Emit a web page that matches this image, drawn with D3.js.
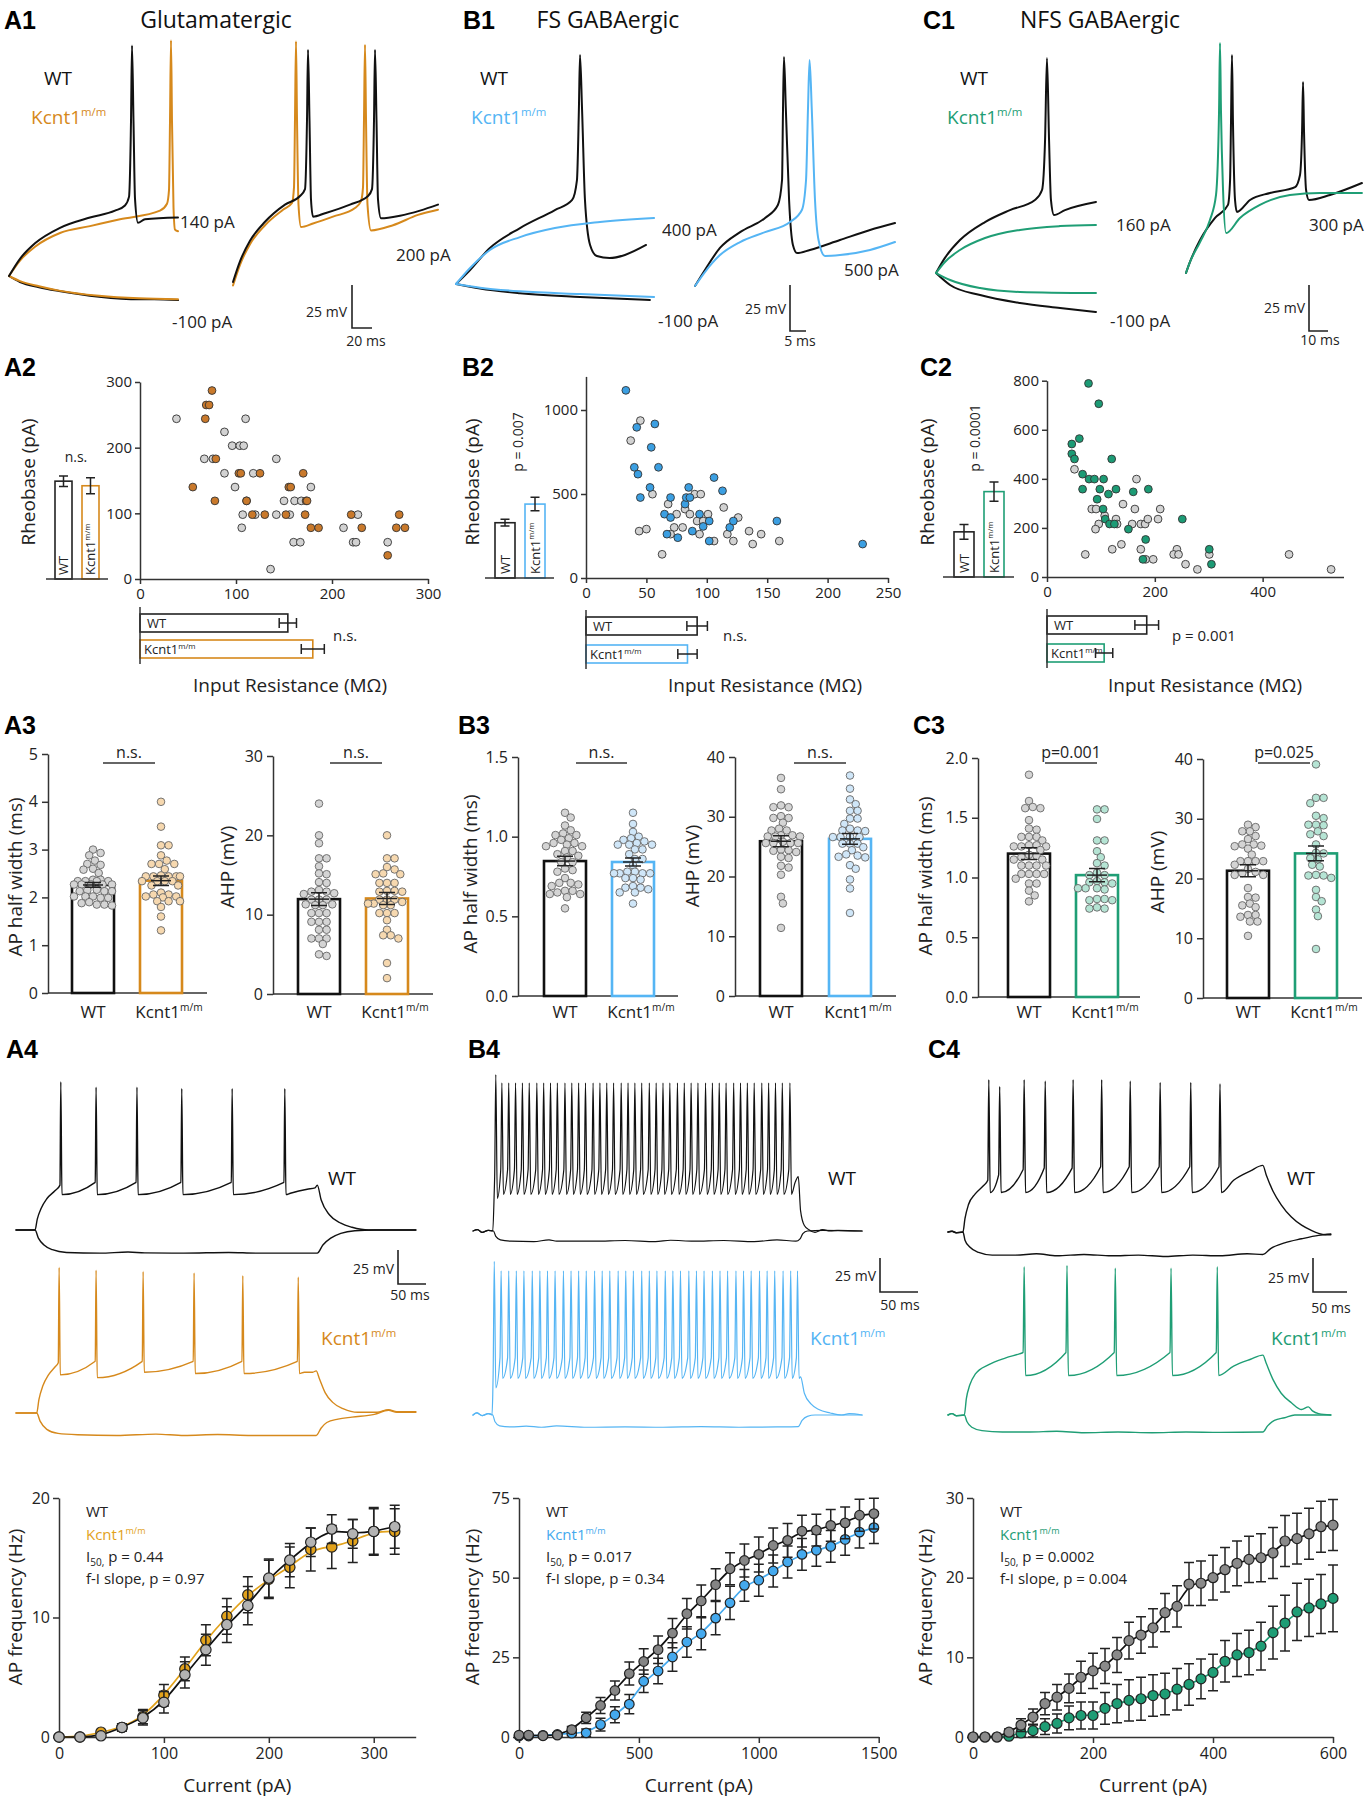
<!DOCTYPE html>
<html><head><meta charset="utf-8">
<script src="https://cdn.jsdelivr.net/npm/d3@7"></script>
<style>html,body{margin:0;padding:0;background:#fff}svg{display:block}</style>
</head><body>
<svg id="chart" width="1365" height="1800" xmlns="http://www.w3.org/2000/svg"></svg>
<script>
// ================= DATA =================
// Row 1 example traces: [time (ms), membrane potential relative to rest (mV)]
const A1_wt140 = [[0,0],[11,10],[26,19],[51,28],[81,34],[106,38],[116,41],[120,46],[122,90],[123,134],[124.5,90],[126,45],[129,31],[136,33],[169,34]];
const A1_ko140 = [[0,0],[11,9],[26,17],[51,25],[81,29],[111,33],[151,38],[158,42],[160,50],[161,90],[162,137],[163,90],[164.5,40],[166,27],[169,26]];
const A1_wthyp = [[0,0],[11,-3.5],[30,-6.5],[50,-8.7],[90,-12],[130,-13.5],[145,-13.5],[169,-14]];
const A1_kohyp = [[0,0],[11,-3],[30,-6],[50,-8.5],[90,-11.5],[130,-13],[169,-13.5]];
const A1_wt200 = [[0,0],[7,12],[17,24],[32,35],[52,45],[67,50],[72,54],[74,94],[75,135],[76.5,94],[78,48],[80,38],[92,40],[117,45],[135,50],[139,54],[141,94],[142,135],[143.5,94],[145,48],[148,37],[167,38.5],[187,41.5],[205,45]];
const A1_ko200 = [[0,-2],[7,10],[17,22],[32,33],[50,42],[59,46],[61,55],[62,95],[63,140],[64,95],[65.5,45],[68,32],[80,34],[100,38],[122,43],[128,47],[130,55],[131,95],[132,138],[133,95],[134.5,45],[138,30],[160,33],[185,39],[205,42]];
const B1_wt400 = [[0,0],[4.4,7.6],[10.6,19.6],[20,30.4],[30.9,40.2],[36.3,45.7],[37.8,56.5],[38.4,94.6],[38.75,124.5],[39.4,94.6],[40.3,45.7],[41.9,21.2],[44,15.2],[48,14.1],[52.8,15.8],[59.4,21.2]];
const B1_ko400 = [[0,0],[4.4,8.7],[10.6,18.5],[20,25.5],[30.9,30.4],[45,33.7],[61.9,35.9]];
const B1_wthyp = [[0,0],[7.5,-2.5],[20,-5],[38.75,-7],[60.6,-8.7]];
const B1_kohyp = [[0,0],[7.5,-2],[20,-4],[38.75,-5.5],[61.9,-7]];
const B1_wt500 = [[0,0],[3.1,8.7],[7.8,20.7],[14.1,29.3],[21.9,37],[25.9,44],[27.2,57.6],[27.5,95.7],[27.8,124.5],[28.4,95.7],[29.4,46.7],[30.6,22.3],[31.9,17.9],[35.9,19.6],[45.3,25],[54.7,30.4],[62.5,34.2]];
const B1_ko500 = [[0,0],[3.1,7.6],[7.8,16.8],[14.1,23.9],[21.9,29.3],[29.7,34.8],[33.4,41.3],[34.7,57.6],[35.3,95.7],[35.8,122.8],[36.5,95.7],[37.5,46.7],[38.6,25],[40.6,16.3],[45.3,16.8],[54.7,19.6],[62.5,23.9]];
const C1_wt160 = [[0,0],[4.7,8.2],[12.6,17.9],[25.8,27.7],[38.9,34.2],[52.1,39.7],[55.8,45.1],[57.4,72.3],[58.4,116.8],[59.5,72.3],[60.5,39.7],[62.1,31.5],[67.9,34.2],[84.2,38.6]];
const C1_ko160 = [[0,0],[4.7,6],[12.6,12.5],[25.8,19],[44.2,23.4],[65.3,25.5],[84.2,26.1]];
const C1_wthyp = [[0,0],[7.4,-6.5],[23.2,-12],[44.2,-16.3],[65.3,-19],[84.2,-21.2]];
const C1_kohyp = [[0,0],[7.4,-3.8],[23.2,-8.2],[44.2,-10.3],[84.2,-10.9]];
const C1_wt300 = [[0,0],[2.1,6],[7.4,17.9],[15.3,29.9],[22.1,37],[23.2,50.5],[23.7,83.2],[24.2,118.5],[24.7,83.2],[25.8,39.7],[26.8,33.2],[33.7,39.7],[44.2,43.5],[57.4,46.7],[60,53.3],[61.1,77.7],[61.6,103.8],[62.1,77.7],[63.2,45.1],[64.7,39.7],[75.8,42.4],[92.6,48.9]];
const C1_ko300 = [[0,0],[2.1,6],[7.4,16.8],[12.6,28.8],[15.8,42.4],[17.4,88.6],[17.9,125],[18.4,88.6],[19.5,45.1],[21.1,21.7],[28.4,29.9],[38.9,37],[54.7,42.4],[70.5,43.5],[92.6,43.5]];

// Row 2: [input resistance (MΩ), rheobase (pA)]
const A2_wt = [[38,244],[88,224],[110,244],[96,203],[104,203],[108,203],[67,183],[76,183],[88,161],[118,161],[99,140],[111,119],[107,98],[120,98],[106,78],[142,183],[142,98],[150,119],[156,98],[161,119],[168,119],[160,56],[167,56],[178,140],[136,15],[212,78],[227,98],[222,56],[225,56],[258,56]];
const A2_ko = [[75,287],[69,265],[72,265],[68,244],[79,183],[55,140],[78,119],[103,161],[105,161],[125,161],[111,119],[117,98],[130,98],[152,98],[155,140],[157,140],[170,161],[173,119],[174,119],[172,98],[178,78],[186,78],[220,98],[231,78],[270,98],[267,78],[276,78],[258,36]];
const B2_wt = [[45,937],[37,818],[55,499],[44,279],[50,291],[63,141],[68,440],[75,380],[73,301],[80,301],[70,261],[82,410],[86,380],[90,499],[95,499],[92,339],[97,339],[94,261],[101,380],[106,220],[114,420],[117,261],[122,220],[126,360],[135,279],[138,202],[145,261],[160,220]];
const B2_ko = [[33,1117],[42,897],[57,917],[54,778],[40,659],[43,618],[60,659],[53,539],[45,479],[70,479],[85,539],[106,598],[113,519],[65,380],[70,360],[82,440],[83,479],[86,479],[94,380],[102,339],[97,307],[88,279],[67,261],[76,240],[102,220],[119,301],[122,339],[158,339],[229,202]];
const C2_wt = [[51,439],[166,399],[141,297],[163,277],[210,277],[83,277],[91,277],[107,250],[96,216],[90,195],[128,236],[130,216],[158,216],[174,216],[182,216],[187,236],[206,236],[121,113],[138,133],[174,113],[71,92],[183,72],[197,72],[241,113],[235,92],[244,92],[257,52],[279,31],[301,92],[449,92],[527,31]];
const C2_ko = [[77,789],[96,706],[60,564],[46,542],[46,502],[51,481],[120,481],[66,419],[78,399],[88,399],[105,399],[66,358],[98,358],[128,358],[114,338],[160,347],[188,358],[93,317],[104,277],[108,236],[116,216],[125,216],[151,195],[183,153],[251,236],[178,72],[301,113],[305,52]];
// [mean, sem]
const A2_rheo = {wt:[149,8], ko:[142,12]}, A2_ir = {wt:[154,9], ko:[180,12]};
const B2_rheo = {wt:[329,20], ko:[440,40]}, B2_ir = {wt:[92,8.5], ko:[84,8]};
const C2_rheo = {wt:[184,30], ko:[348,39]}, C2_ir = {wt:[185,22], ko:[106,16]};

// Row 3: AP half width (ms) and AHP (mV) per cell
const A3_hw_wt = [3.0,2.93,2.88,2.77,2.68,2.7,2.6,2.58,2.51,2.37,2.37,2.34,2.34,2.34,2.34,2.27,2.27,2.27,2.27,2.27,2.16,2.15,2.13,2.13,2.13,2.02,1.99,2.02,2.02,1.99,1.85,1.9,1.83,1.88,1.85];
const A3_hw_ko = [4.0,3.48,3.09,3.09,2.88,2.7,2.7,2.7,2.77,2.59,2.44,2.44,2.44,2.44,2.44,2.46,2.34,2.34,2.34,2.34,2.25,2.25,2.06,2.06,2.1,2.02,2.02,2.0,1.92,1.92,1.92,1.8,1.6,1.31];
const A3_ahp_wt = [24.0,20.0,19.0,17.1,17.1,16.1,15.2,15.1,14.1,14.0,13.1,12.9,12.9,12.6,12.7,11.9,11.9,11.9,11.3,11.3,11.2,11.2,10.2,10.2,10.2,9.1,9.1,9.1,8.1,8.1,7.0,7.0,7.0,6.3,4.8,5.0];
const A3_ahp_ko = [20.0,17.1,17.1,16.0,15.7,15.2,15.1,15.1,14.0,14.0,14.0,13.0,13.0,12.9,12.9,11.9,11.9,11.9,11.6,11.4,11.2,11.2,11.4,10.2,10.2,10.2,9.3,8.1,7.4,7.4,7.0,3.9,2.0];
const B3_hw_wt = [1.15,1.12,1.07,1.04,1.01,1.01,1.02,0.99,0.98,0.96,0.95,0.96,0.94,0.94,0.91,0.91,0.89,0.88,0.87,0.84,0.84,0.79,0.78,0.80,0.74,0.71,0.71,0.70,0.69,0.66,0.66,0.65,0.64,0.64,0.62,0.55];
const B3_hw_ko = [1.15,1.08,1.03,1.0,0.99,0.98,0.97,0.95,0.95,0.95,0.96,0.92,0.92,0.89,0.86,0.86,0.82,0.77,0.77,0.78,0.77,0.78,0.77,0.74,0.74,0.73,0.68,0.68,0.69,0.67,0.65,0.65,0.58];
const B3_ahp_wt = [36.5,34.6,31.9,31.6,31.6,29.8,29.8,30.1,29.0,27.7,28.0,27.7,26.9,26.7,26.7,26.7,26.9,25.8,25.6,25.6,25.6,25.6,24.5,24.3,24.4,24.1,23.1,23.3,21.8,21.5,20.3,16.6,15.5,11.4];
const B3_ahp_ko = [36.9,34.7,32.9,32.1,31.0,31.0,29.7,29.7,28.8,28.0,27.7,27.7,27.6,26.6,26.7,26.6,26.6,25.5,25.5,25.5,24.4,24.9,23.5,23.7,23.2,23.3,21.9,21.3,19.5,18.0,13.9];
const C3_hw_wt = [1.86,1.64,1.59,1.58,1.58,1.48,1.40,1.41,1.34,1.34,1.34,1.31,1.27,1.26,1.26,1.27,1.26,1.23,1.15,1.18,1.19,1.17,1.15,1.10,1.10,1.10,1.10,1.03,1.03,1.03,1.03,0.99,0.95,0.95,0.89,0.85,0.80];
const C3_hw_ko = [1.57,1.57,1.49,1.31,1.31,1.22,1.17,1.12,1.10,1.04,1.02,1.02,0.97,0.96,0.96,0.95,0.91,0.91,0.91,0.90,0.81,0.81,0.82,0.82,0.74,0.74,0.75];
const C3_ahp_wt = [29.0,27.9,27.9,28.6,27.1,26.6,25.5,25.7,25.7,25.4,25.0,24.0,22.9,22.9,22.9,22.9,22.3,21.6,21.1,20.6,20.9,20.6,18.4,16.8,16.9,15.8,15.2,15.5,13.9,13.9,13.6,12.8,12.8,10.4];
const C3_ahp_ko = [39.1,33.5,33.5,32.6,30.1,30.5,29.0,28.9,27.9,29.0,27.4,27.1,25.7,24.3,24.2,23.4,23.2,22.3,22.0,20.5,20.5,20.1,20.6,18.1,16.9,16.2,14.8,13.7,8.2];
// [mean, sem]
const A3_stats = {hw:{wt:[2.26,0.05], ko:[2.35,0.1]}, ahp:{wt:[11.96,0.8], ko:[12.04,0.75]}};
const B3_stats = {hw:{wt:[0.847,0.03], ko:[0.841,0.025]}, ahp:{wt:[25.9,0.9], ko:[26.3,0.9]}};
const C3_stats = {hw:{wt:[1.20,0.05], ko:[1.02,0.055]}, ahp:{wt:[21.3,1.0], ko:[24.2,1.25]}};

// Row 4 trains: subthreshold knots + spike times (ms) + levels (mV)
const A4_wt_on = [[0,0],[34,0],[38,8],[45,16],[55,23],[70,29]];
const A4_wt_spk = [80,143,216,296,386,480];
const A4_wt_pk = [109,105,105,104,104,104];
const A4_wt_tail = [[490,27],[520,30],[534,31],[538,33],[545,22],[560,11],[580,5],[600,2],[630,0],[714,0]];
const A4_wt_hyp = [[0,0],[34,0],[40,-6],[50,-11],[65,-14.5],[90,-16.5],[150,-17],[200,-16.2],[230,-16.8],[300,-17],[380,-16.5],[430,-17],[538,-17],[548,-11],[562,-6],[580,-2.5],[605,-0.5],[640,0],[714,0]];
const A4_ko_on = [[0,0],[37,0],[41,10],[48,20],[58,28],[70,34]];
const A4_ko_spk = [77,143,227,318,405,504];
const A4_ko_pk = [107,105,104,103,101,100];
const A4_ko_tr = [28,26,30,29,29,29];
const A4_ko_tail = [[515,30],[530,30],[536,31],[542,25],[552,15],[565,8],[585,3],[610,0.5],[645,0.5],[665,2.5],[680,1],[714,1]];
const A4_ko_hyp = [[0,0],[37,0],[43,-6],[55,-12],[75,-15],[110,-16],[180,-16.5],[250,-15.5],[300,-16.5],[360,-15.8],[420,-16.5],[536,-16.5],[545,-11],[555,-7],[575,-4.5],[600,-3],[640,-1],[665,2],[680,0.5],[714,0.5]];
const B4_wt_on = [[0,0],[6,1],[12,-1],[20,0.5],[26,0],[28,30]];
const B4_wt_spk = [30,38,47,56,65,74,84,93,102,111,121,130,139,148,158,167,176,185,195,204,213,222,232,241,250,259,269,278,287,296,306,315,324,333,343,352,361,370,380,389,398,407,417];
const B4_wt_tail = [[424,36],[428,40],[431,15],[436,4],[442,1],[450,-1],[460,1],[470,0],[480,0.5],[512,0]];
const B4_wt_hyp = [[0,0],[6,1],[12,-1],[20,0.5],[27,0],[30,-4],[36,-6.5],[50,-7.5],[80,-7.8],[100,-6.5],[110,-7.5],[160,-7.5],[200,-7],[240,-7.8],[260,-6.8],[290,-7.5],[330,-7],[370,-7.8],[400,-6.5],[425,-7.5],[430,-6],[434,-2],[440,0],[460,0.5],[512,0]];
const B4_ko_on = [[0,0],[5,1.5],[12,-0.5],[20,1],[25,0],[26,15]];
const B4_ko_spk = [28,37,47,57,67,78,88,98,108,119,129,139,149,160,170,180,191,201,211,222,232,242,253,263,273,284,294,304,315,325,335,346,356,366,377,387,397,408,418,427];
const B4_ko_tail = [[431,28],[436,16],[445,8],[455,4],[470,1.5],[485,0],[495,1],[512,0]];
const B4_ko_hyp = [[0,0],[5,1.5],[12,-0.5],[20,1],[26,0],[29,-5],[35,-8],[50,-8.8],[70,-8.2],[90,-9],[110,-8],[150,-9],[200,-8.7],[250,-9],[300,-8.6],[350,-9],[400,-8.8],[428,-8.5],[433,-4],[440,-1],[450,0],[512,0]];
const C4_wt_on = [[0,0],[6,0.5],[12,-0.5],[22,0],[25,10],[30,20],[40,28],[52,34]];
const C4_wt_spk = [60,76,112,143,184,226,268,312,357,400];
const C4_wt_pk = [112,107,112,111,112,112,111,110,110,109];
const C4_wt_pre = [38,42,46,47,47,48,48,48,48,48];
const C4_wt_tail = [[420,38],[445,45],[463,49],[468,42],[478,30],[490,20],[505,11],[520,5],[535,1],[545,-1],[555,-2],[563,-2]];
const C4_wt_hyp = [[0,0],[6,0.5],[12,-0.5],[22,0],[25,-6],[32,-11],[45,-15],[65,-17],[100,-17],[130,-16],[160,-17.5],[200,-16.5],[240,-17.5],[280,-17],[320,-18],[360,-17],[400,-17.5],[440,-16],[463,-16.5],[475,-12],[495,-8],[520,-5],[545,-2.5],[563,-1.5]];
const C4_ko_on = [[0,0],[6,1],[12,-0.5],[24,0],[27,12],[32,22],[40,30],[60,37],[85,42],[105,45]];
const C4_ko_spk = [112,175,246,328,396];
const C4_ko_pk = [109,110,108,108,109];
const C4_ko_tail = [[420,36],[445,41],[463,44],[468,38],[478,26],[490,16],[505,9],[520,4],[530,6],[536,3],[545,1],[563,0]];
const C4_ko_hyp = [[0,0],[6,1],[12,-0.5],[24,0],[28,-5],[35,-9],[50,-11.5],[80,-12.5],[120,-12.5],[160,-12],[200,-13],[250,-12.5],[300,-13],[350,-12.5],[400,-12.8],[463,-12.5],[470,-8],[480,-4],[495,-2],[510,0],[563,0]];

// Row 5: f-I curves (current pA, frequency Hz, sem)
const fiA_I = [0,20,40,60,80,100,120,140,160,180,200,220,240,260,280,300,320];
const fiA_wt = [0,0,0.1,0.8,1.6,2.9,5.2,7.3,9.4,11.0,13.3,14.8,16.3,17.4,17.0,17.2,17.6];
const fiA_wtE = [0,0,0.1,0.3,0.6,0.9,1.1,1.3,1.5,1.6,1.6,1.4,1.2,1.2,1.2,2.0,1.8];
const fiA_ko = [0,0,0.4,0.8,1.7,3.5,5.7,8.1,10.1,11.9,13.2,14.2,15.7,15.9,16.4,17.2,17.2];
const fiA_koE = [0,0,0.1,0.3,0.6,0.9,1.0,1.3,1.5,1.5,1.6,1.7,1.8,1.8,1.8,1.9,1.9];
const fiB_I = [0,40,100,160,220,280,340,400,460,520,580,640,700,760,820,880,940,1000,1060,1120,1180,1240,1300,1360,1420,1480];
const fiB_wt = [0.6,0.6,0.4,0.6,2.3,6.0,9.9,14.6,19.9,23.7,27.4,32.6,38.7,42.7,47.8,52.8,55.4,57.3,60.1,61.7,64.6,64.9,66.4,67.2,69.6,70.1];
const fiB_wtE = [0.3,0.3,0.3,0.5,1,1.8,2.5,3,3.6,4,4.3,4.6,4.8,5.0,5.0,5.0,5.2,5.5,5.5,5.3,5.0,5.0,5.0,5.0,5.0,4.8];
const fiB_ko = [0.3,0.3,0.5,0.8,1.2,1.3,3.9,7.0,10.3,17.5,20.7,25.1,29.8,32.4,37.3,42.1,47.6,49.2,52.1,54.9,57.3,58.6,59.8,62.0,64.3,65.7];
const fiB_koE = [0.2,0.2,0.3,0.5,0.8,1.2,2,2.5,3,3.5,4,4.5,4.8,5,5.2,5.2,5,5,5,5,5,5,5,5,5,5];
const fiC_I = [0,20,40,60,80,100,120,140,160,180,200,220,240,260,280,300,320,340,360,380,400,420,440,460,480,500,520,540,560,580,600];
const fiC_wt = [0,0,0,0.6,1.5,2.5,4.2,5.0,6.1,7.5,8.3,8.9,10.3,12.1,12.8,13.7,15.6,16.4,19.2,19.3,20.0,21.0,21.8,22.3,22.5,23.1,24.6,24.9,25.5,26.4,26.6];
const fiC_wtE = [0,0,0,0.4,0.8,1.0,1.4,1.6,1.8,2.0,2.2,2.2,2.2,2.3,2.3,2.4,2.4,2.6,2.7,2.8,2.8,2.8,2.8,2.9,3.0,3.2,3.2,3.2,3.2,3.2,3.2];
const fiC_ko = [0,0,0,0.1,0.5,0.8,1.3,1.7,2.4,2.7,2.7,3.6,4.2,4.6,4.8,5.2,5.4,6.0,6.6,7.3,8.1,9.5,10.3,10.6,11.4,13.1,14.3,15.7,16.2,16.7,17.4];
const fiC_koE = [0,0,0,0.2,0.5,0.8,1.0,1.2,1.5,1.7,1.7,2.0,2.4,2.6,2.7,2.6,2.6,2.6,2.6,2.5,2.3,2.6,2.7,2.8,3.0,3.3,3.5,3.6,3.6,3.7,4.2];

// ================= DRAWING =================
const svg = d3.select("#chart");
const F = "'Open Sans','Noto Sans','DejaVu Sans',sans-serif";
const FB = "'Liberation Sans',Arial,'DejaVu Sans',sans-serif";
const BLK = "#111";
const OR = "#d6891c", OR_DOT = "#c9792b", OR_LT = "#f6d8af", OR_FI = "#e2a21b";
const BL = "#55b5f4", BL_DOT = "#3b9fe2", BL_LT = "#cfe6f8", BL_FI = "#44a9ee";
const GR = "#1f9e75", GR_DOT = "#1c9b75", GR_LT = "#b5e4d4", GR_FI = "#1e9d75";
const fInt = d3.format("d"), f1 = d3.format(".1f");

function T(g, x, y, s, o = {}) {
  const fs = o.fs || 16;
  const t = g.append("text").attr("x", x).attr("y", y)
    .attr("font-family", o.ff || F).attr("font-size", fs)
    .attr("fill", o.fill || "#222").attr("text-anchor", o.anchor || "start").text(s);
  if (o.bold) t.attr("font-weight", "bold");
  if (o.rot) t.attr("transform", `rotate(${o.rot},${x},${y})`);
  return t;
}
function K(g, x, y, o = {}) {
  const fs = o.fs || 16;
  const t = T(g, x, y, "Kcnt1", o);
  t.append("tspan").attr("dy", -fs * 0.42).attr("font-size", fs * 0.6).text("m/m");
  return t;
}
function styleAxis(sel, fs) {
  sel.select(".domain").attr("stroke", "#333").attr("stroke-width", 1.5);
  sel.selectAll(".tick line").attr("stroke", "#333").attr("stroke-width", 1.5);
  sel.selectAll(".tick text").attr("font-family", F).attr("font-size", fs).attr("fill", "#222");
}
function errV(g, x, y1, y2, w, col) {
  g.append("path").attr("d", `M${x},${y1}V${y2}M${x - w / 2},${y1}H${x + w / 2}M${x - w / 2},${y2}H${x + w / 2}`)
    .attr("fill", "none").attr("stroke", col || "#222").attr("stroke-width", 1.5);
}
function errH(g, x1, x2, y, h) {
  g.append("path").attr("d", `M${x1},${y}H${x2}M${x1},${y - h / 2}V${y + h / 2}M${x2},${y - h / 2}V${y + h / 2}`)
    .attr("fill", "none").attr("stroke", "#222").attr("stroke-width", 1.5);
}

// ---- trace helpers ----
function traces(g, ox, oy, kx, ky, list) {
  const tEnd = d3.max(list, s => d3.max(s.d, p => p[0]));
  const x = d3.scaleLinear().domain([0, tEnd]).range([ox, ox + tEnd * kx]);
  const y = d3.scaleLinear().domain([0, 100]).range([oy, oy - 100 * ky]);
  const ln = d3.line().x(p => x(p[0])).y(p => y(p[1])).curve(d3.curveMonotoneX);
  list.forEach(s => g.append("path").attr("d", ln(s.d)).attr("fill", "none")
    .attr("stroke", s.c).attr("stroke-width", s.w || 2).attr("stroke-linejoin", "round").attr("stroke-linecap", "round"));
}
function scalebar(g, ox, oy, kx, ky, ms, mv, lmv, lms) {
  const x = d3.scaleLinear().domain([0, ms]).range([ox, ox + ms * kx]);
  const y = d3.scaleLinear().domain([0, mv]).range([oy, oy - mv * ky]);
  g.append("path").attr("d", `M${x(0)},${y(mv)}V${y(0)}H${x(ms)}`).attr("fill", "none").attr("stroke", "#222").attr("stroke-width", 1.6);
  T(g, lmv[0], lmv[1], `${mv} mV`, {fs: 14, anchor: "end"});
  T(g, lms[0], lms[1], `${ms} ms`, {fs: 14, anchor: "middle"});
}
function train(onset, spikes, o, tail) {
  const pts = onset.map(d => d.slice());
  const pick = (v, i, v0) => (i === 0 && v0 != null) ? v0 : (Array.isArray(v) ? v[i] : v);
  spikes.forEach((ts, i) => {
    pts.push([ts - 1.5, pick(o.pre, i, o.pre0)], [ts, pick(o.peak, i, o.peak0)], [ts + 2, pick(o.trough, i, o.trough0)]);
  });
  return pts.concat(tail);
}

// ================= ROW 1 =================
const g1 = svg.append("g");
[["A1",4],["B1",463],["C1",923]].forEach(([s, x]) => T(g1, x, 29, s, {ff: FB, fs: 25, bold: true, fill: "#000"}));
T(g1, 216, 28, "Glutamatergic", {fs: 23, anchor: "middle", fill: "#111"});
T(g1, 608, 28, "FS GABAergic", {fs: 23, anchor: "middle", fill: "#111"});
T(g1, 1100, 28, "NFS GABAergic", {fs: 23, anchor: "middle", fill: "#111"});
[[44, 31, OR], [480, 471, BL], [960, 947, GR]].forEach(([xw, xk, c]) => {
  T(g1, xw, 85, "WT", {fs: 19, fill: "#111"});
  K(g1, xk, 124, {fs: 19, fill: c});
});
// A1
traces(g1, 9, 276, 1, 1.72, [{d: A1_wthyp, c: BLK}, {d: A1_kohyp, c: OR}, {d: A1_ko140, c: OR}, {d: A1_wt140, c: BLK}]);
traces(g1, 233, 282, 1, 1.72, [{d: A1_ko200, c: OR}, {d: A1_wt200, c: BLK}]);
scalebar(g1, 352, 328, 1, 1.72, 20, 25, [347, 317], [366, 346]);
T(g1, 180, 228, "140 pA", {fs: 17});
T(g1, 172, 328, "-100 pA", {fs: 17});
T(g1, 396, 261, "200 pA", {fs: 17});
// B1
traces(g1, 456, 284, 3.2, 1.84, [{d: B1_wthyp, c: BLK}, {d: B1_wt400, c: BLK}, {d: B1_kohyp, c: BL}, {d: B1_ko400, c: BL}]);
traces(g1, 695, 286, 3.2, 1.84, [{d: B1_wt500, c: BLK}, {d: B1_ko500, c: BL}]);
scalebar(g1, 790, 331, 3.2, 1.84, 5, 25, [786, 314], [800, 346]);
T(g1, 662, 236, "400 pA", {fs: 17});
T(g1, 658, 327, "-100 pA", {fs: 17});
T(g1, 844, 276, "500 pA", {fs: 17});
// C1
traces(g1, 936, 273, 1.9, 1.84, [{d: C1_wthyp, c: BLK}, {d: C1_wt160, c: BLK}, {d: C1_kohyp, c: GR}, {d: C1_ko160, c: GR}]);
traces(g1, 1186, 273, 1.9, 1.84, [{d: C1_wt300, c: BLK}, {d: C1_ko300, c: GR}]);
scalebar(g1, 1309, 331, 1.9, 1.84, 10, 25, [1305, 313], [1320, 345]);
T(g1, 1116, 231, "160 pA", {fs: 17});
T(g1, 1110, 327, "-100 pA", {fs: 17});
T(g1, 1309, 231, "300 pA", {fs: 17});

// ================= ROW 2 =================
function rheoPanel(c) {
  const g = svg.append("g");
  T(g, c.lab[0], 376, c.lab[1], {ff: FB, fs: 25, bold: true, fill: "#000"});
  const x = d3.scaleLinear().domain([0, c.xMax]).range([c.x0, c.x1]);
  const y = d3.scaleLinear().domain([0, c.yMax]).range([c.yb, c.yt]);
  styleAxis(g.append("g").attr("transform", `translate(${c.x0},0)`)
    .call(d3.axisLeft(y).tickValues(c.yTicks).tickFormat(fInt).tickSize(5).tickSizeOuter(0).tickPadding(3)), 15);
  styleAxis(g.append("g").attr("transform", `translate(0,${c.yb})`)
    .call(d3.axisBottom(x).tickValues(c.xTicks).tickFormat(fInt).tickSize(5).tickSizeOuter(0).tickPadding(4)), 15);
  const pts = c.wt.map(d => ({d, f: "#d2d2d2"})).concat(c.ko.map(d => ({d, f: c.dot})));
  g.selectAll(null).data(pts).join("circle")
    .attr("cx", p => x(p.d[0])).attr("cy", p => y(p.d[1])).attr("r", 3.9)
    .attr("fill", p => p.f).attr("stroke", "#333").attr("stroke-width", 0.9);
  // mini rheobase bars (share y scale)
  [[c.rheo.wt, c.mbx[0], "#222", "WT"], [c.rheo.ko, c.mbx[1], c.col, "K"]].forEach(([ms, bx, col, lab]) => {
    g.append("rect").attr("x", bx).attr("y", y(ms[0])).attr("width", c.mbw).attr("height", c.yb - y(ms[0]))
      .attr("fill", "#fff").attr("stroke", col).attr("stroke-width", 1.6);
    errV(g, bx + c.mbw / 2, y(ms[0] - ms[1]), y(ms[0] + ms[1]), 9);
    const tx = bx + c.mbw / 2 + 4.5, ty = c.yb - 4;
    if (lab === "WT") T(g, tx, ty, "WT", {fs: 13, rot: -90});
    else K(g, tx, ty, {fs: 13, rot: -90});
  });
  g.append("line").attr("x1", c.mbl[0]).attr("x2", c.mbl[1]).attr("y1", c.yb).attr("y2", c.yb).attr("stroke", "#333").attr("stroke-width", 1.5);
  T(g, c.ylx, 482, "Rheobase (pA)", {fs: 19, anchor: "middle", rot: -90});
  if (c.pRot) T(g, c.pRot[0], c.pRot[1], c.pRot[2], {fs: 14, anchor: "middle", rot: -90});
  else T(g, c.ns[0], c.ns[1], "n.s.", {fs: 14, anchor: "middle"});
  // input resistance horizontal bars (share x scale)
  [[c.ir.wt, c.hby[0], "#222", "WT"], [c.ir.ko, c.hby[1], c.col, "K"]].forEach(([ms, by, col, lab]) => {
    g.append("rect").attr("x", c.x0).attr("y", by).attr("width", x(ms[0]) - c.x0).attr("height", 18)
      .attr("fill", "#fff").attr("stroke", col).attr("stroke-width", 1.6);
    errH(g, x(ms[0] - ms[1]), x(ms[0] + ms[1]), by + 9, 10);
    if (lab === "WT") T(g, c.x0 + 7, by + 14, "WT", {fs: 13});
    else K(g, c.x0 + 4, by + 14, {fs: 13});
  });
  g.append("line").attr("x1", c.x0).attr("x2", c.x0).attr("y1", c.hby[0] - 7).attr("y2", c.hby[1] + 24).attr("stroke", "#333").attr("stroke-width", 1.5);
  T(g, c.irT[0], 641, c.irT[1], {fs: 15});
  T(g, c.titX, 692, "Input Resistance (MΩ)", {fs: 19, anchor: "middle"});
}
rheoPanel({lab: [4, "A2"], x0: 140, x1: 428, xMax: 300, xTicks: [0, 100, 200, 300], yb: 579, yt: 382, yMax: 300, yTicks: [0, 100, 200, 300],
  wt: A2_wt, ko: A2_ko, dot: OR_DOT, col: OR, rheo: A2_rheo, ir: A2_ir, mbx: [55, 82], mbw: 17, mbl: [46, 108],
  ylx: 35, ns: [76, 462], hby: [614, 640], irT: [333, "n.s."], titX: 290});
rheoPanel({lab: [462, "B2"], x0: 586, x1: 888, xMax: 250, xTicks: [0, 50, 100, 150, 200, 250], yb: 578, yt: 376.4, yMax: 1200, yTicks: [0, 500, 1000],
  wt: B2_wt, ko: B2_ko, dot: BL_DOT, col: BL, rheo: B2_rheo, ir: B2_ir, mbx: [495, 525], mbw: 20, mbl: [485, 554],
  ylx: 479, pRot: [523, 442, "p = 0.007"], hby: [617, 645], irT: [723, "n.s."], titX: 765});
rheoPanel({lab: [920, "C2"], x0: 1047, x1: 1343.5, xMax: 550, xTicks: [0, 200, 400], yb: 577, yt: 380.7, yMax: 800, yTicks: [0, 200, 400, 600, 800],
  wt: C2_wt, ko: C2_ko, dot: GR_DOT, col: GR, rheo: C2_rheo, ir: C2_ir, mbx: [954, 984], mbw: 20, mbl: [943, 1014],
  ylx: 934, pRot: [980, 438, "p = 0.0001"], hby: [616, 644], irT: [1172, "p = 0.001"], titX: 1205});

// ================= ROW 3 =================
// beeswarm layout bounded to the bar width
function swarm(vals, y, cx, r, half) {
  const pts = vals.map(v => ({v, y: y(v)})).sort((a, b) => a.y - b.y);
  const placed = [];
  const step = r * 0.5, need = 1.75 * r;
  pts.forEach(p => {
    let best = cx, bestD = -1;
    for (let k = 0; k < 200; k++) {
      const off = k === 0 ? 0 : (k % 2 ? 1 : -1) * Math.ceil(k / 2) * step;
      if (Math.abs(off) > half) break;
      const xx = cx + off;
      const d = placed.length ? d3.min(placed, q => Math.hypot(q.x - xx, q.y - p.y)) : 1e9;
      if (d >= need) { best = xx; bestD = d; break; }
      if (d > bestD) { bestD = d; best = xx; }
    }
    p.x = best;
    placed.push(p);
  });
  return placed;
}
function barDots(c) {
  const g = svg.append("g");
  const y = d3.scaleLinear().domain(c.dom).range([c.yb, c.yt]);
  styleAxis(g.append("g").attr("transform", `translate(${c.ax},0)`)
    .call(d3.axisLeft(y).tickValues(c.ticks).tickFormat(c.fmt).tickSize(6).tickSizeOuter(0).tickPadding(4)), 16);
  g.append("line").attr("x1", c.ax).attr("x2", c.xEnd).attr("y1", c.yb).attr("y2", c.yb).attr("stroke", "#333").attr("stroke-width", 1.5);
  const groups = [{vals: c.wt, st: c.st.wt, cx: c.cx[0], col: "#111", fill: "#d4d4d4"}, {vals: c.ko, st: c.st.ko, cx: c.cx[1], col: c.col, fill: c.lt}];
  groups.forEach(gr => {
    g.append("rect").attr("x", gr.cx - 21).attr("y", y(gr.st[0])).attr("width", 42).attr("height", c.yb - y(gr.st[0]))
      .attr("fill", "#fff").attr("stroke", gr.col).attr("stroke-width", 2.6);
  });
  groups.forEach(gr => {
    g.selectAll(null).data(swarm(gr.vals, y, gr.cx, 3.8, 19)).join("circle")
      .attr("cx", p => p.x).attr("cy", p => p.y).attr("r", 3.8)
      .attr("fill", gr.fill).attr("stroke", "#666").attr("stroke-width", 0.9);
  });
  groups.forEach(gr => {
    g.append("line").attr("x1", gr.cx - 10).attr("x2", gr.cx + 10).attr("y1", y(gr.st[0])).attr("y2", y(gr.st[0])).attr("stroke", "#222").attr("stroke-width", 1.5);
    errV(g, gr.cx, y(gr.st[0] - gr.st[1]), y(gr.st[0] + gr.st[1]), 16);
  });
  g.append("line").attr("x1", c.br[0]).attr("x2", c.br[1]).attr("y1", 763).attr("y2", 763).attr("stroke", "#333").attr("stroke-width", 1.5);
  T(g, (c.br[0] + c.br[1]) / 2, 758, c.btxt, {fs: 16, anchor: "middle"});
  T(g, c.ylx, c.yly, c.ylab, {fs: 19, anchor: "middle", rot: -90});
  T(g, c.cx[0], 1018, "WT", {fs: 17, anchor: "middle"});
  K(g, c.cx[1] + 8, 1018, {fs: 17, anchor: "middle"});
}
[["A3", 4], ["B3", 458], ["C3", 913]].forEach(([s, x]) => T(svg, x, 734, s, {ff: FB, fs: 25, bold: true, fill: "#000"}));
barDots({ax: 48, xEnd: 207, yb: 993, yt: 754, dom: [0, 5], ticks: [0, 1, 2, 3, 4, 5], fmt: fInt, wt: A3_hw_wt, ko: A3_hw_ko, st: A3_stats.hw,
  cx: [93, 161], col: OR, lt: OR_LT, br: [103, 155], btxt: "n.s.", ylab: "AP half width (ms)", ylx: 22, yly: 877});
barDots({ax: 273, xEnd: 433, yb: 994, yt: 756, dom: [0, 30], ticks: [0, 10, 20, 30], fmt: fInt, wt: A3_ahp_wt, ko: A3_ahp_ko, st: A3_stats.ahp,
  cx: [319, 387], col: OR, lt: OR_LT, br: [330, 382], btxt: "n.s.", ylab: "AHP (mV)", ylx: 234, yly: 867});
barDots({ax: 518, xEnd: 678, yb: 996, yt: 757, dom: [0, 1.5], ticks: [0, 0.5, 1, 1.5], fmt: f1, wt: B3_hw_wt, ko: B3_hw_ko, st: B3_stats.hw,
  cx: [565, 633], col: BL, lt: BL_LT, br: [576, 627], btxt: "n.s.", ylab: "AP half width (ms)", ylx: 477, yly: 874});
barDots({ax: 735, xEnd: 896, yb: 996, yt: 757, dom: [0, 40], ticks: [0, 10, 20, 30, 40], fmt: fInt, wt: B3_ahp_wt, ko: B3_ahp_ko, st: B3_stats.ahp,
  cx: [781, 850], col: BL, lt: BL_LT, br: [794, 846], btxt: "n.s.", ylab: "AHP (mV)", ylx: 699, yly: 866});
barDots({ax: 978, xEnd: 1140, yb: 997, yt: 758, dom: [0, 2], ticks: [0, 0.5, 1, 1.5, 2], fmt: f1, wt: C3_hw_wt, ko: C3_hw_ko, st: C3_stats.hw,
  cx: [1029, 1097], col: GR, lt: GR_LT, br: [1045, 1097], btxt: "p=0.001", ylab: "AP half width (ms)", ylx: 932, yly: 876});
barDots({ax: 1203, xEnd: 1362, yb: 998, yt: 759, dom: [0, 40], ticks: [0, 10, 20, 30, 40], fmt: fInt, wt: C3_ahp_wt, ko: C3_ahp_ko, st: C3_stats.ahp,
  cx: [1248, 1316], col: GR, lt: GR_LT, br: [1258, 1310], btxt: "p=0.025", ylab: "AHP (mV)", ylx: 1164, yly: 872});

// ================= ROW 4 =================
const g4 = svg.append("g");
[["A4", 6], ["B4", 468], ["C4", 928]].forEach(([s, x]) => T(g4, x, 1058, s, {ff: FB, fs: 25, bold: true, fill: "#000"}));
const W4 = 1.4;
traces(g4, 16, 1230, 0.56, 1.36, [{d: A4_wt_hyp, c: BLK, w: W4}, {d: train(A4_wt_on, A4_wt_spk, {peak: A4_wt_pk, trough: 26, pre: 35, pre0: 33}, A4_wt_tail), c: BLK, w: W4}]);
traces(g4, 16, 1413, 0.56, 1.36, [{d: A4_ko_hyp, c: OR, w: W4}, {d: train(A4_ko_on, A4_ko_spk, {peak: A4_ko_pk, trough: A4_ko_tr, pre: 38, pre0: 37}, A4_ko_tail), c: OR, w: W4}]);
scalebar(g4, 398, 1284, 0.56, 1.36, 50, 25, [394, 1274], [410, 1300]);
traces(g4, 473, 1231, 0.76, 1.36, [{d: B4_wt_hyp, c: BLK, w: 1.2}, {d: train(B4_wt_on, B4_wt_spk, {peak: 109, peak0: 115, trough: 27, trough0: 24, pre: 45, pre0: 40}, B4_wt_tail), c: BLK, w: 1.2}]);
traces(g4, 473, 1415, 0.76, 1.36, [{d: B4_ko_hyp, c: BL, w: 1.2}, {d: train(B4_ko_on, B4_ko_spk, {peak: 106, peak0: 113, trough: 27, trough0: 20, pre: 42, pre0: 30}, B4_ko_tail), c: BL, w: 1.2}]);
scalebar(g4, 880, 1292, 0.76, 1.36, 50, 25, [876, 1281], [900, 1310]);
traces(g4, 948, 1232, 0.68, 1.36, [{d: C4_wt_hyp, c: BLK, w: W4}, {d: train(C4_wt_on, C4_wt_spk, {peak: C4_wt_pk, trough: 29, pre: C4_wt_pre}, C4_wt_tail), c: BLK, w: W4}]);
traces(g4, 948, 1415, 0.68, 1.36, [{d: C4_ko_hyp, c: GR, w: W4}, {d: train(C4_ko_on, C4_ko_spk, {peak: C4_ko_pk, trough: 29, pre: 46}, C4_ko_tail), c: GR, w: W4}]);
scalebar(g4, 1313, 1292, 0.68, 1.36, 50, 25, [1309, 1283], [1331, 1313]);
[[328, 321, OR], [828, 810, BL], [1287, 1271, GR]].forEach(([xw, xk, c]) => {
  T(g4, xw, 1185, "WT", {fs: 19, fill: "#111"});
  K(g4, xk, 1345, {fs: 19, fill: c});
});

// ================= ROW 5 =================
function fiPanel(c) {
  const g = svg.append("g");
  const x = d3.scaleLinear().domain([0, c.xMax]).range([c.x0, c.x1]);
  const y = d3.scaleLinear().domain([0, c.yMax]).range([1737, 1498]);
  styleAxis(g.append("g").attr("transform", `translate(${c.x0},0)`)
    .call(d3.axisLeft(y).tickValues(c.yTicks).tickFormat(fInt).tickSize(6).tickSizeOuter(0).tickPadding(3)), 16);
  styleAxis(g.append("g").attr("transform", `translate(0,1737)`)
    .call(d3.axisBottom(x).tickValues(c.xTicks).tickFormat(fInt).tickSize(6).tickSizeOuter(0).tickPadding(5)), 16);
  const ln = d3.line().x(d => x(d[0])).y(d => y(d[1])).curve(d3.curveBasis);
  const ser = [{m: c.ko, e: c.koE, fill: c.col, stroke: c.col}, {m: c.wt, e: c.wtE, fill: c.gray, stroke: "#111"}];
  ser.forEach(s => g.append("path").attr("d", ln(c.I.map((v, i) => [v, s.m[i]]))).attr("fill", "none").attr("stroke", s.stroke).attr("stroke-width", 1.7));
  ser.forEach(s => {
    c.I.forEach((v, i) => { if (s.e[i] > 0.15) errV(g, x(v), y(s.m[i] - s.e[i]), y(s.m[i] + s.e[i]), 10, "#222"); });
    g.selectAll(null).data(c.I.map((v, i) => [v, s.m[i]])).join("circle")
      .attr("cx", d => x(d[0])).attr("cy", d => y(d[1])).attr("r", c.r)
      .attr("fill", s.fill).attr("stroke", "#222").attr("stroke-width", 1.2);
  });
  const lx = c.x0 + 27;
  T(g, lx, 1517, "WT", {fs: 15});
  K(g, lx, 1540, {fs: 15, fill: c.col});
  const t = T(g, lx, 1562, "I", {fs: 15});
  t.append("tspan").attr("dy", 4).attr("font-size", 10).text("50,");
  t.append("tspan").attr("dy", -4).text(" " + c.p1);
  T(g, lx, 1584, "f-I slope, " + c.p2, {fs: 15});
  T(g, (c.x0 + c.x1) / 2, 1792, "Current (pA)", {fs: 19, anchor: "middle"});
  T(g, c.ylx, 1607, "AP frequency (Hz)", {fs: 19, anchor: "middle", rot: -90});
}
fiPanel({x0: 59, x1: 415.7, xMax: 340, xTicks: [0, 100, 200, 300], yMax: 20, yTicks: [0, 10, 20], I: fiA_I, wt: fiA_wt, wtE: fiA_wtE, ko: fiA_ko, koE: fiA_koE,
  col: OR_FI, gray: "#b3b3b3", r: 5.2, p1: "p = 0.44", p2: "p = 0.97", ylx: 22});
fiPanel({x0: 519, x1: 878.7, xMax: 1500, xTicks: [0, 500, 1000, 1500], yMax: 75, yTicks: [0, 25, 50, 75], I: fiB_I, wt: fiB_wt, wtE: fiB_wtE, ko: fiB_ko, koE: fiB_koE,
  col: BL_FI, gray: "#858585", r: 4.8, p1: "p = 0.017", p2: "p = 0.34", ylx: 479});
fiPanel({x0: 973, x1: 1333, xMax: 600, xTicks: [0, 200, 400, 600], yMax: 30, yTicks: [0, 10, 20, 30], I: fiC_I, wt: fiC_wt, wtE: fiC_wtE, ko: fiC_ko, koE: fiC_koE,
  col: GR_FI, gray: "#8a8a8a", r: 5, p1: "p = 0.0002", p2: "p = 0.004", ylx: 932});
</script>
</body></html>
